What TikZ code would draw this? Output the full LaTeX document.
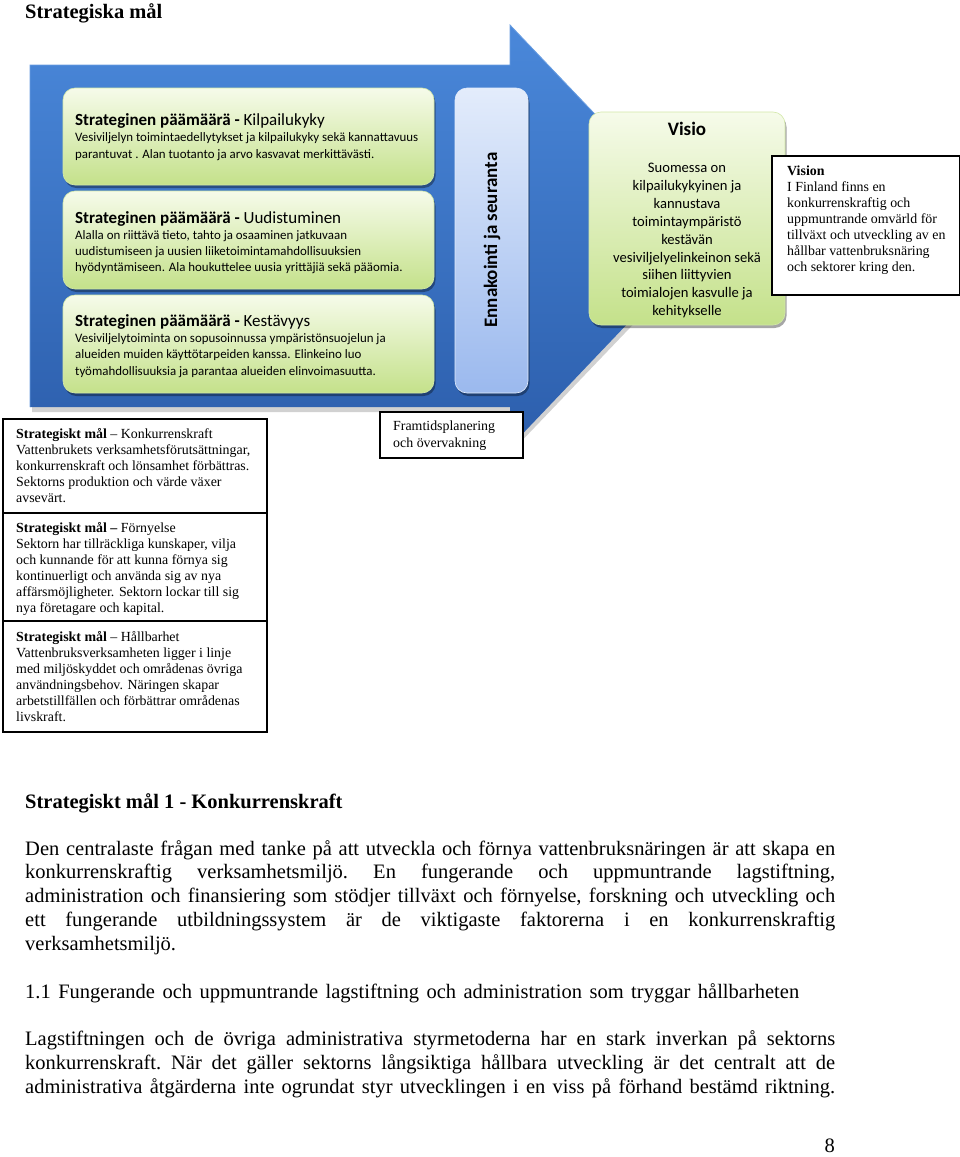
\documentclass[tikz,border=0pt]{standalone}
\usepackage{fontspec}
\setmainfont{Liberation Serif}
\newfontfamily\calfont{Carlito}
\usetikzlibrary{shadows}
\definecolor{bluetop}{HTML}{4A88DA}
\definecolor{bluebot}{HTML}{2C5EAC}
\definecolor{blueedge}{HTML}{6A9EE2}
\definecolor{gtop}{HTML}{F6FBEA}
\definecolor{gbot}{HTML}{C4E18A}
\definecolor{gborder}{HTML}{D2E8A8}
\definecolor{etop}{HTML}{E3ECFB}
\definecolor{ebot}{HTML}{9BB9EE}
\newcommand{\cln}[1]{\hbox to 200pt{\hss#1\hss}}
\newcommand{\jln}[1]{\hbox to 810pt{#1}}
\begin{document}
\begin{tikzpicture}[x=1pt,y=-1pt,
  gbox/.style={rounded corners=12pt, top color=gtop, bottom color=gbot, draw=gborder, line width=0.6pt,
    drop shadow={shadow xshift=1.5pt, shadow yshift=-3pt, opacity=0.35, fill=black}},
  ebox/.style={rounded corners=12pt, top color=etop, bottom color=ebot, draw=etop, line width=0.6pt,
    drop shadow={shadow xshift=1.5pt, shadow yshift=-3pt, opacity=0.35, fill=black}},
  wbox/.style={draw=black, fill=white, line width=1.1pt},
  txt/.style={inner sep=0pt, anchor=base west},
  gtxt/.style={inner sep=0pt, anchor=base west, font=\calfont},
  every node/.append style={text=black}
]
\useasboundingbox (0,0) rectangle (960,1157);
\fill[white] (0,0) rectangle (960,1157);

% title
\node[txt, font=\fontsize{20.5}{24}\selectfont\bfseries] (title) at (25,18) {Strategiska mål};

% big arrow shadow and body
\fill[black, opacity=0.18] (32,69) -- (512,69) -- (512,29) -- (714,240) -- (512,451) -- (512,412) -- (32,412) -- cycle;
\shade[top color=bluetop, bottom color=bluebot] (30,65) -- (510,65) -- (510,25) -- (711,236) -- (510,447) -- (510,407) -- (30,407) -- cycle;
\draw[blueedge, line width=0.8pt] (30,407) -- (30,65) -- (510,65) -- (510,25) -- (711,236);

% green boxes
\path[gbox] (63,88) rectangle (434,185);
\path[gbox] (63,191) rectangle (434,289);
\path[gbox] (63,295) rectangle (434,393);
% vertical box
\path[ebox] (455,88) rectangle (528,393);
% visio
\path[gbox] (589,112) rectangle (785,325);

\node[gtxt] (g1) at (75,125) {\vtop{\baselineskip=16.8pt
  \hbox{\fontsize{17}{20}\selectfont\bfseries Strateginen päämäärä - \mdseries Kilpailukyky}
  \hbox{\fontsize{12.9}{16}\selectfont Vesiviljelyn toimintaedellytykset ja kilpailukyky sekä kannattavuus}
  \hbox{\fontsize{12.9}{16}\selectfont parantuvat . Alan tuotanto ja arvo kasvavat merkittävästi.}}};
\node[gtxt] (g2) at (75,223) {\vtop{\baselineskip=16.1pt
  \hbox{\fontsize{17}{20}\selectfont\bfseries Strateginen päämäärä - \mdseries Uudistuminen}
  \hbox{\fontsize{12.9}{16}\selectfont Alalla on riittävä tieto, tahto ja osaaminen jatkuvaan}
  \hbox{\fontsize{12.9}{16}\selectfont uudistumiseen ja uusien liiketoimintamahdollisuuksien}
  \hbox{\fontsize{12.9}{16}\selectfont hyödyntämiseen. Ala houkuttelee uusia yrittäjiä sekä pääomia.}}};
\node[gtxt] (g3) at (75,326) {\vtop{\baselineskip=16.4pt
  \hbox{\fontsize{17}{20}\selectfont\bfseries Strateginen päämäärä - \mdseries Kestävyys}
  \hbox{\fontsize{12.9}{16}\selectfont Vesiviljelytoiminta on sopusoinnussa ympäristönsuojelun ja}
  \hbox{\fontsize{12.9}{16}\selectfont alueiden muiden käyttötarpeiden kanssa. Elinkeino luo}
  \hbox{\fontsize{12.9}{16}\selectfont työmahdollisuuksia ja parantaa alueiden elinvoimasuutta.}}};

\node[inner sep=0pt, anchor=base, rotate=90, font=\calfont\fontsize{19}{22}\selectfont\bfseries] (enn) at (497,240) {Ennakointi ja seuranta};

\node[inner sep=0pt, anchor=base, font=\calfont\fontsize{19}{22}\selectfont\bfseries] (visiot) at (687,135) {Visio};
\node[inner sep=0pt, anchor=base, font=\calfont\fontsize{14.6}{18}\selectfont] (visiob) at (687,172.5) {\vtop{\baselineskip=17.9pt
  \cln{Suomessa on}
  \cln{kilpailukykyinen ja}
  \cln{kannustava}
  \cln{toimintaympäristö}
  \cln{kestävän}
  \cln{vesiviljelyelinkeinon sekä}
  \cln{siihen liittyvien}
  \cln{toimialojen kasvulle ja}
  \cln{kehitykselle}}};

% Vision box
\path[wbox] (772,156) rectangle (959.4,295);
\node[txt, font=\fontsize{13.9}{16}\selectfont] (vis) at (787,175.5) {\vtop{\baselineskip=16pt
  \hbox{\bfseries Vision}
  \hbox{I Finland finns en}
  \hbox{konkurrenskraftig och}
  \hbox{uppmuntrande omvärld för}
  \hbox{tillväxt och utveckling av en}
  \hbox{hållbar vattenbruksnäring}
  \hbox{och sektorer kring den.}}};

% Framtidsplanering
\path[wbox] (380,412) rectangle (523,458);
\node[txt, font=\fontsize{13.9}{16}\selectfont] (fram) at (393,430.5) {\vtop{\baselineskip=16.5pt
  \hbox{Framtidsplanering}
  \hbox{och övervakning}}};

% stacked boxes
\path[wbox] (3,419) rectangle (267,513);
\path[wbox] (3,513) rectangle (267,621);
\path[wbox] (3,621) rectangle (267,732);
\node[txt, font=\fontsize{13.9}{16}\selectfont] (s1) at (16,438.5) {\vtop{\baselineskip=16.1pt
  \hbox{\textbf{Strategiskt mål} -- Konkurrenskraft}
  \hbox{Vattenbrukets verksamhetsförutsättningar,}
  \hbox{konkurrenskraft och lönsamhet förbättras.}
  \hbox{Sektorns produktion och värde växer}
  \hbox{avsevärt.}}};
\node[txt, font=\fontsize{13.9}{16}\selectfont] (s2) at (16,532) {\vtop{\baselineskip=16.1pt
  \hbox{\textbf{Strategiskt mål --} Förnyelse}
  \hbox{Sektorn har tillräckliga kunskaper, vilja}
  \hbox{och kunnande för att kunna förnya sig}
  \hbox{kontinuerligt och använda sig av nya}
  \hbox{affärsmöjligheter. Sektorn lockar till sig}
  \hbox{nya företagare och kapital.}}};
\node[txt, font=\fontsize{13.9}{16}\selectfont] (s3) at (16,641) {\vtop{\baselineskip=16.1pt
  \hbox{\textbf{Strategiskt mål} -- Hållbarhet}
  \hbox{Vattenbruksverksamheten ligger i linje}
  \hbox{med miljöskyddet och områdenas övriga}
  \hbox{användningsbehov. Näringen skapar}
  \hbox{arbetstillfällen och förbättrar områdenas}
  \hbox{livskraft.}}};

% body text
\node[txt, font=\fontsize{20.5}{24}\selectfont\bfseries] (h1) at (25,808) {Strategiskt mål 1 - Konkurrenskraft};
\node[txt, font=\fontsize{20.5}{24}\selectfont] (p1) at (25,855) {\frenchspacing\vtop{\baselineskip=23.8pt
  \jln{Den centralaste frågan med tanke på att utveckla och förnya vattenbruksnäringen är att skapa en}
  \jln{konkurrenskraftig verksamhetsmiljö. En fungerande och uppmuntrande lagstiftning,}
  \jln{administration och finansiering som stödjer tillväxt och förnyelse, forskning och utveckling och}
  \jln{ett fungerande utbildningssystem är de viktigaste faktorerna i en konkurrenskraftig}
  \hbox{verksamhetsmiljö.}}};
\node[txt, font=\fontsize{20.5}{24}\selectfont] (h11) at (25,998) {\hbox to 774pt{1.1 Fungerande och uppmuntrande lagstiftning och administration som tryggar hållbarheten}};
\node[txt, font=\fontsize{20.5}{24}\selectfont] (p2) at (25,1045) {\frenchspacing\vtop{\baselineskip=24pt
  \jln{Lagstiftningen och de övriga administrativa styrmetoderna har en stark inverkan på sektorns}
  \jln{konkurrenskraft. När det gäller sektorns långsiktiga hållbara utveckling är det centralt att de}
  \jln{administrativa åtgärderna inte ogrundat styr utvecklingen i en viss på förhand bestämd riktning.}}};
\node[inner sep=0pt, anchor=base east, font=\fontsize{20.5}{24}\selectfont] (pg) at (835,1152) {8};
\end{tikzpicture}
\end{document}
